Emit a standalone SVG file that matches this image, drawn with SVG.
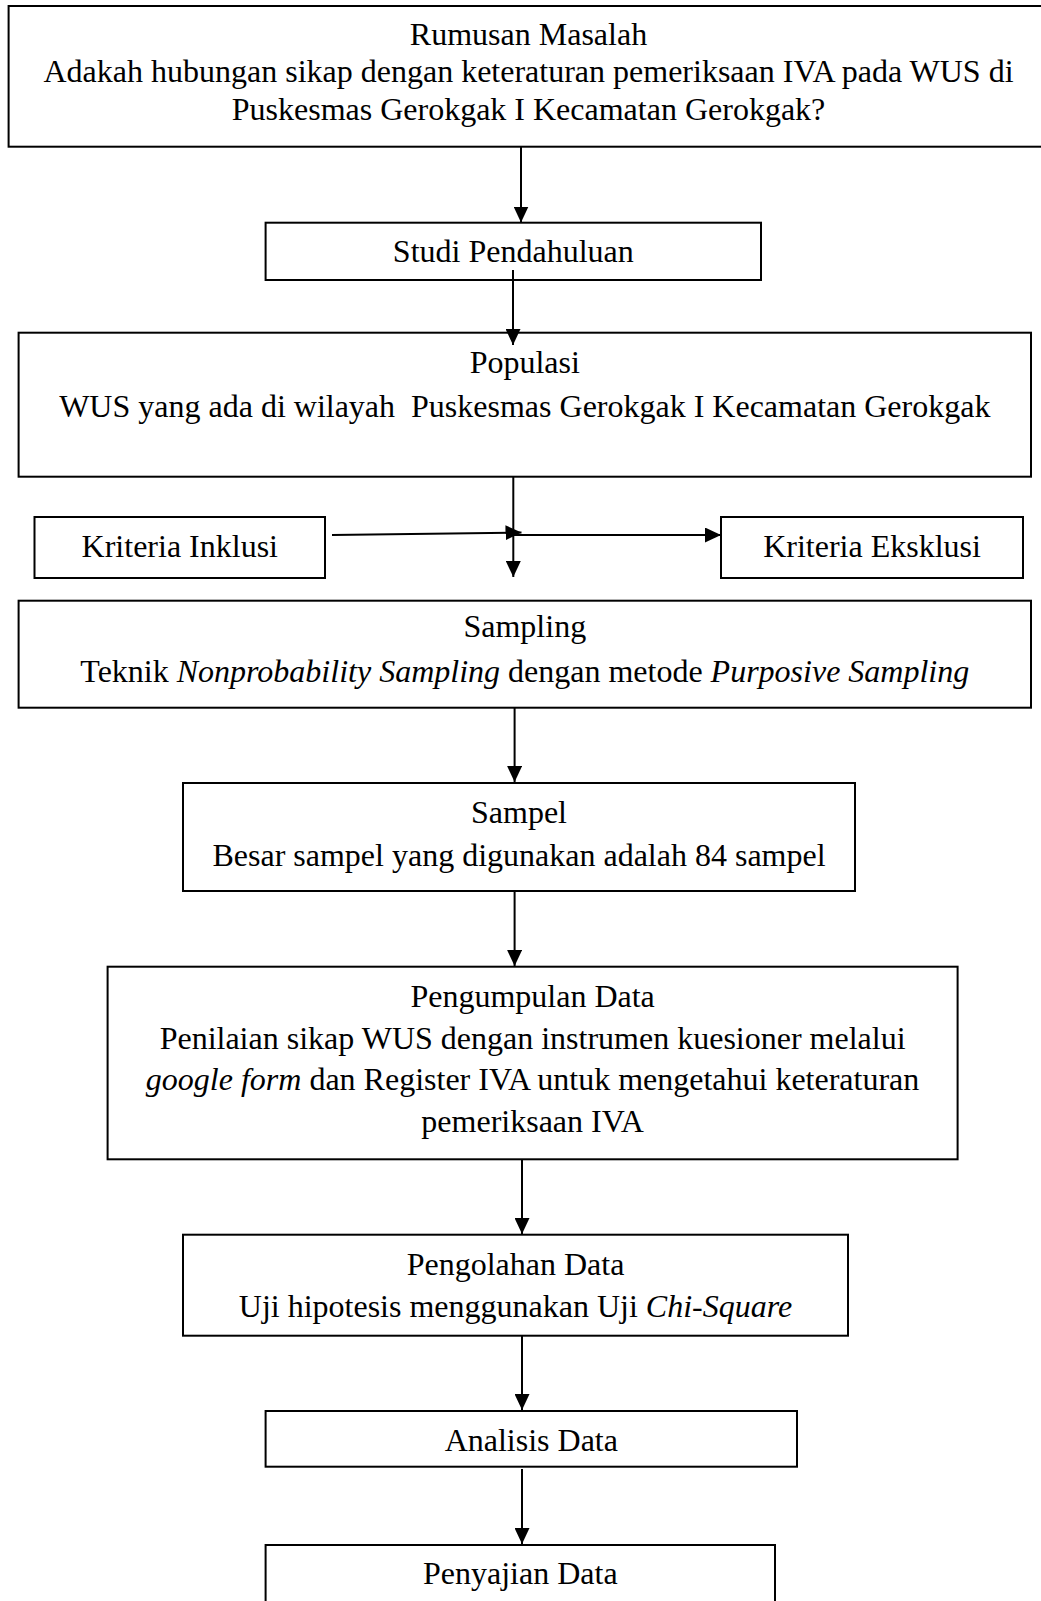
<svg xmlns="http://www.w3.org/2000/svg" width="1041" height="1601" viewBox="0 0 1041 1601">
<style>
.box{fill:#fff;stroke:#000;stroke-width:2}
.t{font-family:"Liberation Serif","Times New Roman",serif;font-size:32px;fill:#000;text-anchor:middle}
.i{font-style:italic}
.c{stroke:#000;stroke-width:2;fill:none}
</style>
<defs>
<marker id="ah" markerUnits="userSpaceOnUse" markerWidth="16" markerHeight="15" refX="16" refY="7.5" orient="auto">
<path d="M0,0 L16,7.5 L0,15 Z" fill="#000"/>
</marker>
</defs>
<rect width="1041" height="1601" fill="#fff"/>
<g id="rumusan">
<rect class="box" x="8.6" y="6" width="1040" height="140.7"/>
<text class="t" x="528.5" y="45">Rumusan Masalah</text>
<text class="t" x="528.5" y="82">Adakah hubungan sikap dengan keteraturan pemeriksaan IVA pada WUS di</text>
<text class="t" x="528.5" y="120">Puskesmas Gerokgak I Kecamatan Gerokgak?</text>
</g>
<g id="studi">
<rect class="box" x="265.6" y="222.7" width="495.4" height="57.3"/>
<text class="t" x="513.3" y="262">Studi Pendahuluan</text>
</g>
<g id="populasi">
<rect class="box" x="18.6" y="332.7" width="1012.4" height="144"/>
<text class="t" x="524.8" y="373">Populasi</text>
<text class="t" x="524.8" y="417">WUS yang ada di wilayah &#160;Puskesmas Gerokgak I Kecamatan Gerokgak</text>
</g>
<g id="inklusi">
<rect class="box" x="34.5" y="517" width="290.5" height="61"/>
<text class="t" x="179.8" y="557">Kriteria Inklusi</text>
</g>
<g id="eksklusi">
<rect class="box" x="721" y="517" width="302" height="61"/>
<text class="t" x="872" y="557">Kriteria Eksklusi</text>
</g>
<g id="sampling">
<rect class="box" x="18.6" y="600.7" width="1012.4" height="107"/>
<text class="t" x="524.8" y="637">Sampling</text>
<text class="t" x="524.8" y="682">Teknik <tspan class="i">Nonprobability Sampling</tspan> dengan metode <tspan class="i">Purposive Sampling</tspan></text>
</g>
<g id="sampel">
<rect class="box" x="183" y="783" width="672" height="108"/>
<text class="t" x="519" y="823.3">Sampel</text>
<text class="t" x="519" y="865.7">Besar sampel yang digunakan adalah 84 sampel</text>
</g>
<g id="pengumpulan">
<rect class="box" x="107.6" y="966.7" width="850" height="192.6"/>
<text class="t" x="532.6" y="1006.7">Pengumpulan Data</text>
<text class="t" x="532.6" y="1049">Penilaian sikap WUS dengan instrumen kuesioner melalui</text>
<text class="t" x="532.6" y="1090"><tspan class="i">google form</tspan> dan Register IVA untuk mengetahui keteraturan</text>
<text class="t" x="532.6" y="1131.7">pemeriksaan IVA</text>
</g>
<g id="pengolahan">
<rect class="box" x="183" y="1234.7" width="665" height="101"/>
<text class="t" x="515.5" y="1275">Pengolahan Data</text>
<text class="t" x="515.5" y="1316.7">Uji hipotesis menggunakan Uji <tspan class="i">Chi-Square</tspan></text>
</g>
<g id="analisis">
<rect class="box" x="265.6" y="1411" width="531.4" height="55.7"/>
<text class="t" x="531.3" y="1450.7">Analisis Data</text>
</g>
<g id="penyajian">
<rect class="box" x="265.6" y="1545" width="509.4" height="70"/>
<text class="t" x="520.3" y="1584">Penyajian Data</text>
</g>
<g id="connectors">
<line class="c" x1="521" y1="147" x2="521" y2="222.5" marker-end="url(#ah)"/>
<line class="c" x1="513" y1="270" x2="513" y2="345" marker-end="url(#ah)"/>
<line class="c" x1="513.3" y1="477" x2="513.3" y2="577" marker-end="url(#ah)"/>
<line class="c" x1="332" y1="535" x2="521.5" y2="532.5" marker-end="url(#ah)"/>
<line class="c" x1="513" y1="535" x2="721" y2="535" marker-end="url(#ah)"/>
<line class="c" x1="514.6" y1="708" x2="514.6" y2="782" marker-end="url(#ah)"/>
<line class="c" x1="514.6" y1="891" x2="514.6" y2="966" marker-end="url(#ah)"/>
<line class="c" x1="522" y1="1159.3" x2="522" y2="1234" marker-end="url(#ah)"/>
<line class="c" x1="522" y1="1336" x2="522" y2="1410" marker-end="url(#ah)"/>
<line class="c" x1="522" y1="1469" x2="522" y2="1544" marker-end="url(#ah)"/>
</g>
</svg>
